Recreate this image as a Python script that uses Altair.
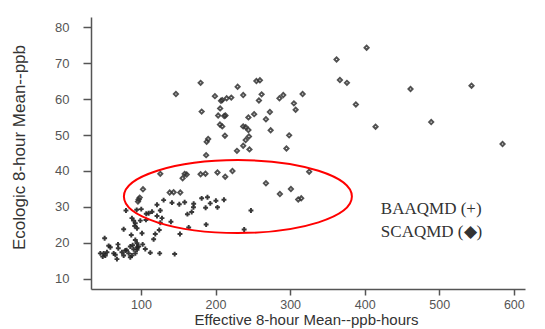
import altair as alt
import pandas as pd

# SCAQMD (diamonds)
sca_x = [180.0, 229.6, 254.8, 259.5, 199.2, 237.1, 261.8, 285.7, 290.8, 316.8, 207.3, 209.0, 214.9, 221.1, 258.2,
         181.4, 206.2, 203.5, 211.7, 213.3, 244.1, 251.8, 272.9, 267.6, 305.1, 307.4, 205.9, 209.0, 237.1, 240.4,
         244.1, 273.9, 212.6, 244.8, 298.7, 190.1, 188.1, 240.4, 237.1, 245.5, 228.7, 295.1, 187.4, 325.6, 362.3,
         366.8, 376.2, 388.2, 402.6, 414.6, 461.5, 489.2, 543.3, 584.9, 146.9, 125.9, 155.9, 158.6, 161.3, 180.0,
         186.5, 202.6, 213.0, 222.7, 267.6, 286.3, 301.1, 310.9, 314.9, 102.7, 138.5, 143.8, 152.7, 96.9, 98.3, 96.0]
sca_y = [64.5, 63.4, 65.0, 65.2, 60.8, 61.1, 61.3, 60.2, 61.1, 61.4, 59.5, 59.7, 60.2, 60.4, 59.6,
         56.5, 57.4, 55.4, 55.3, 55.4, 54.9, 55.8, 56.4, 54.4, 58.8, 57.0, 52.9, 52.4, 52.4, 52.2,
         51.4, 51.3, 49.8, 49.6, 49.9, 48.9, 48.1, 48.6, 47.0, 46.0, 45.6, 46.25, 44.4, 39.8, 71.0,
         65.3, 64.5, 58.5, 74.25, 52.3, 62.8, 53.6, 63.7, 47.5, 61.4, 39.2, 38.0, 39.2, 39.0, 39.1,
         39.25, 39.6, 38.4, 40.0, 36.6, 33.6, 35.0, 32.1, 32.4, 34.9, 34.0, 34.1, 34.0, 32.1, 32.6, 31.5]

# BAAQMD (crosses)
baa_x = [158.6, 151.4, 141.6, 130.4, 121.5, 181.4, 189.2, 192.9, 200.5, 211.3, 170.7, 170.4, 186.7, 202.6, 168.0,
         162.3, 247.5, 187.4, 164.0, 238.4, 152.3, 79.9, 100.4, 114.8, 110.3, 107.1, 125.9, 121.5, 128.2, 87.9,
         90.2, 92.4, 99.1, 106.7, 140.2, 125.9, 76.8, 91.6, 94.7, 101.4, 87.0, 119.2, 124.5, 117.0, 51.3,
         92.4, 94.7, 102.3, 85.7, 69.2, 56.7, 58.9, 79.0, 90.2, 92.4, 105.8, 112.5, 125.1, 145.2, 45.5,
         50.0, 54.4, 52.2, 48.7, 63.4, 65.6, 74.5, 76.8, 83.5, 87.9, 85.7, 67.8, 94.7, 96.9, 94.3,
         69.6, 80.8, 88.9, 95.0]
baa_y = [31.3, 30.75, 31.2, 31.9, 30.6, 32.4, 32.7, 31.0, 31.75, 32.0, 30.9, 29.9, 29.8, 29.9, 28.6,
         28.0, 29.0, 25.1, 24.3, 23.75, 22.5, 29.0, 29.4, 28.7, 28.25, 28.1, 29.0, 27.5, 26.9, 26.9,
         26.2, 25.5, 26.2, 26.4, 25.9, 25.6, 23.8, 24.7, 24.1, 22.7, 22.2, 22.5, 23.6, 21.0, 21.3,
         20.8, 19.9, 19.6, 19.0, 19.6, 19.2, 18.8, 17.9, 18.25, 17.1, 18.3, 17.3, 17.1, 16.9, 17.1,
         17.1, 17.4, 16.5, 16.2, 17.1, 16.7, 17.4, 16.5, 17.1, 16.5, 16.0, 15.5, 18.1, 19.0, 29.2,
         18.5, 18.0, 19.4, 18.8]

x_ticks = [100, 200, 300, 400, 500, 600]
y_ticks = [10, 20, 30, 40, 50, 60, 70, 80]

legend_labels = ["BAAQMD (+)", "SCAQMD (\u25c6)"]
legend_x = [421.7, 421.7]
legend_y = [28.1, 21.7]

ellipse_center_x = [230.0]
ellipse_center_y = [32.9]

sca = pd.DataFrame({"x": sca_x, "y": sca_y})
baa = pd.DataFrame({"x": baa_x, "y": baa_y})
leg = pd.DataFrame({"x": legend_x, "y": legend_y, "t": legend_labels})
ell = pd.DataFrame({"x": ellipse_center_x, "y": ellipse_center_y})

axis_common = dict(grid=False, domainColor="#555", domainWidth=1.5, tickColor="#555", tickWidth=1.5,
                   labelColor="#555", labelFont="Liberation Sans", titleFont="Liberation Sans",
                   titleColor="#333", titleFontWeight="normal")

x_enc = alt.X("x:Q", scale=alt.Scale(domain=[33, 615], nice=False, zero=False),
              axis=alt.Axis(values=x_ticks, tickSize=6, labelPadding=3, labelFontSize=12.5,
                            title="Effective 8-hour Mean--ppb-hours", titleFontSize=15,
                            titleX=215, titleY=35, titleAlign="center", titleBaseline="alphabetic",
                            **axis_common))
y_enc = alt.Y("y:Q", scale=alt.Scale(domain=[7.2, 82.8], nice=False, zero=False),
              axis=alt.Axis(values=y_ticks, tickSize=8, labelPadding=14, labelFontSize=13,
                            title="Ecologic 8-hour Mean--ppb", titleFontSize=17, titleAngle=270,
                            titleX=-72, titleY=130, titleAlign="center", titleBaseline="middle",
                            **axis_common))

sca_layer = alt.Chart(sca).mark_point(shape="diamond", filled=False, size=18, strokeWidth=1.9,
                                      color="#333", opacity=0.85).encode(x=x_enc, y=y_enc)
baa_layer = alt.Chart(baa).mark_point(shape="cross", filled=True, size=24, color="#222",
                                      opacity=0.9).encode(x=x_enc, y=y_enc)

ellipse_path = "M -1 0 A 1 0.32 0 1 1 1 0 A 1 0.32 0 1 1 -1 0 Z"
ell_layer = alt.Chart(ell).mark_point(shape=ellipse_path, size=51984, filled=False, stroke="#ff0000",
                                      strokeWidth=2, opacity=1).encode(x=x_enc, y=y_enc)

txt_layer = alt.Chart(leg).mark_text(align="left", baseline="alphabetic", font="Liberation Serif",
                                     fontSize=17, color="#333").encode(x=x_enc, y=y_enc, text="t:N")

chart = alt.layer(sca_layer, baa_layer, ell_layer, txt_layer).properties(
    width=434, height=272,
    autosize=alt.AutoSizeParams(type="none"),
    padding={"left": 83, "top": 9, "right": 12, "bottom": 39},
    background="white",
).configure_view(stroke=None)

chart.save("out.html", embed_options={"renderer": "svg", "actions": False})
